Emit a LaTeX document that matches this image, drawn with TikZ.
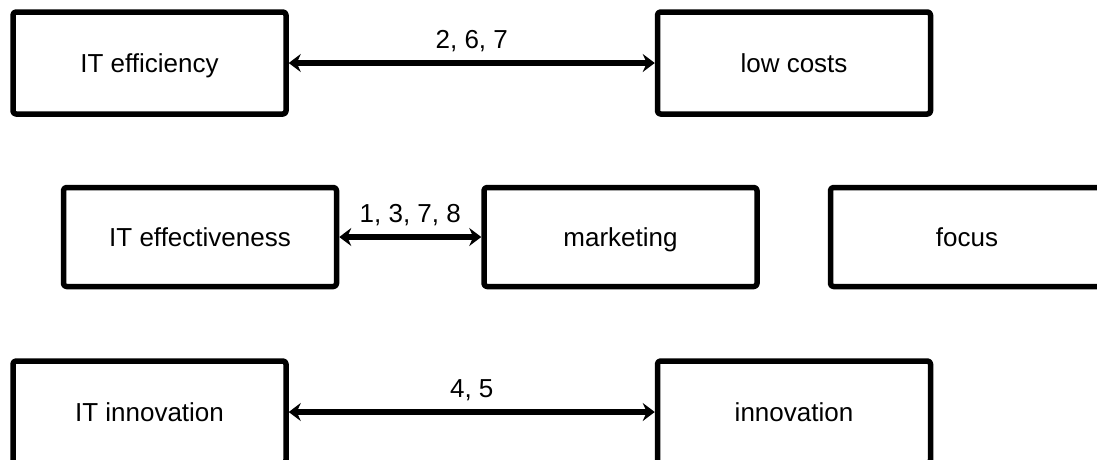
\documentclass[tikz,border=0pt]{standalone}
\usepackage{fontspec}
\setmainfont{Liberation Sans}
\usetikzlibrary{arrows.meta}
\begin{document}
\begin{tikzpicture}[x=1pt, y=-1pt,
  box/.style={draw=black, line width=5.5pt, rounded corners=3pt, line join=round,
    minimum width=273pt, inner sep=0pt, text height=18pt, text depth=0pt,
    font=\fontsize{26}{30}\selectfont},
  rowbox/.style={box, minimum height=102pt},
  midbox/.style={box, minimum height=99pt},
  link/.style={line width=6.5pt, {Stealth[length=12pt,width=18pt,inset=4pt]}-{Stealth[length=12pt,width=18pt,inset=4pt]}},
  tag/.style={anchor=base, yshift=15pt, font=\fontsize{26}{30}\selectfont}]
  \useasboundingbox (0,0) rectangle (1097,459);
  \clip (0,0) rectangle (1097,459);

  % top row
  \node[rowbox] (itEff) at (149.5,63) {IT efficiency};
  \node[rowbox] (lowCost) at (794,63) {low costs};

  % middle row
  \node[midbox] (itEffect) at (200,237) {IT effectiveness};
  \node[midbox] (mkt) at (620.5,237) {marketing};
  \node[midbox] (focus) at (967,237) {focus};

  % bottom row
  \node[rowbox] (itInno) at (149.5,412) {IT innovation};
  \node[rowbox] (inno) at (794,412) {innovation};

  % links with their numbers
  \draw[link] (itEff.east) -- node[tag] {2, 6, 7} (lowCost.west);
  \draw[link] (itEffect.east) -- node[tag] {1, 3, 7, 8} (mkt.west);
  \draw[link] (itInno.east) -- node[tag] {4, 5} (inno.west);
\end{tikzpicture}
\end{document}
